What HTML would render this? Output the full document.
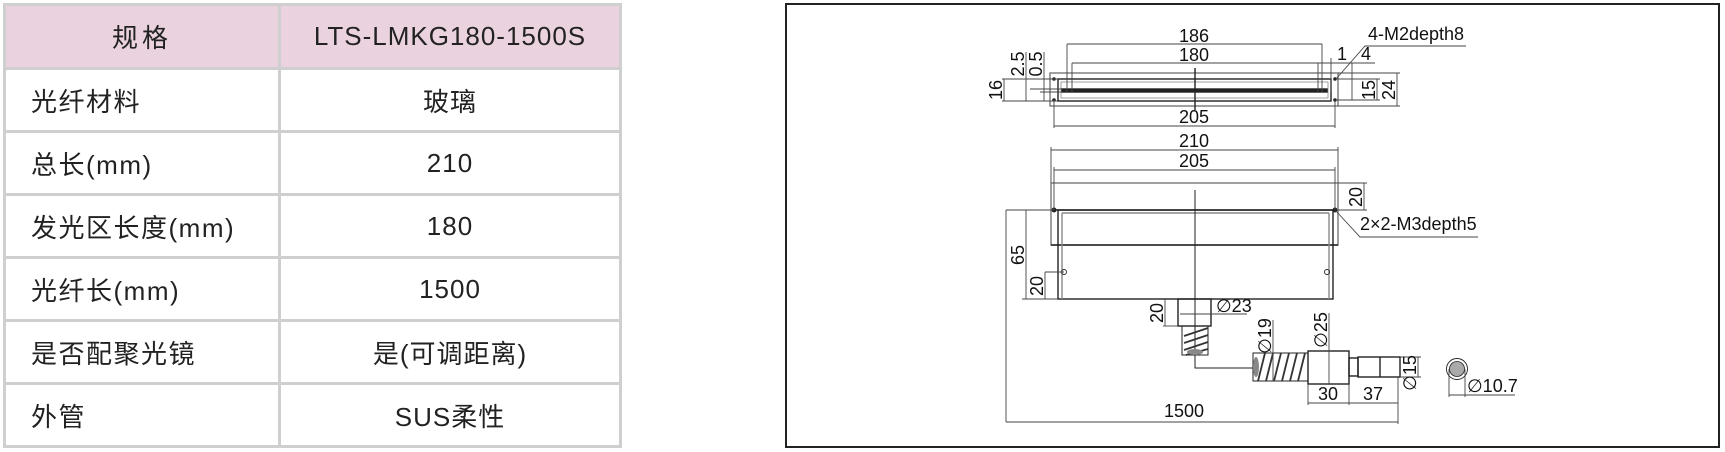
<!DOCTYPE html>
<html><head><meta charset="utf-8"><style>
html,body{margin:0;padding:0;background:#fff;}
body{width:1725px;height:452px;position:relative;overflow:hidden;}
table{position:absolute;left:3px;top:3px;border-collapse:collapse;font-family:"Liberation Sans","Noto Sans CJK SC",sans-serif;color:#222;}
td{border:3px solid #cfcfcf;height:60px;padding:0;font-size:26px;}
td.l{width:247px;padding-left:25px;letter-spacing:1.5px;}
td.r{width:338px;text-align:center;letter-spacing:1px;}
tr.h td{background:#ead3df;height:61px;}
tr.h td.l{text-align:center;padding-left:0;width:272px;letter-spacing:4px;}
svg{position:absolute;left:0;top:0;}
</style></head><body>
<table>
<tr class="h"><td class="l">规格</td><td class="r" style="letter-spacing:1px;font-size:26px">LTS-LMKG180-1500S</td></tr>
<tr><td class="l">光纤材料</td><td class="r">玻璃</td></tr>
<tr><td class="l">总长(mm)</td><td class="r">210</td></tr>
<tr><td class="l">发光区长度(mm)</td><td class="r">180</td></tr>
<tr><td class="l">光纤长(mm)</td><td class="r">1500</td></tr>
<tr><td class="l">是否配聚光镜</td><td class="r">是(可调距离)</td></tr>
<tr><td class="l">外管</td><td class="r">SUS柔性</td></tr>
</table>
<svg width="1725" height="452" viewBox="0 0 1725 452" font-family="Liberation Sans, sans-serif" font-size="18" fill="#111">
<rect x="786" y="4" width="933" height="443" fill="none" stroke="#222" stroke-width="2"/>
<g fill="none" stroke="#222" stroke-width="1.4">
<rect x="1050" y="73" width="288" height="33" stroke="#777"/>
<rect x="1058" y="79" width="273" height="22"/>
<rect x="1061" y="82" width="267" height="16" stroke="#888" stroke-width="0.8"/>
<rect x="1062" y="89" width="265" height="3" fill="#222"/>
<line x1="1195" y1="68" x2="1195" y2="110"/>
<rect x="1051" y="183" width="287" height="62" stroke="#777"/>
<line x1="1054" y1="210" x2="1335" y2="210"/>
<line x1="1051" y1="245" x2="1338" y2="245"/>
<rect x="1058" y="210" width="275" height="89"/>
<line x1="1062" y1="213" x2="1062" y2="299" stroke="#888"/>
<line x1="1329" y1="213" x2="1329" y2="299" stroke="#888"/>
<line x1="1062" y1="213" x2="1329" y2="213" stroke="#888"/>
<polyline points="1195,190 1195,368 1254,368" stroke-width="1"/>
<rect x="1178" y="299" width="33" height="27"/>
<rect x="1182" y="326" width="26" height="29" stroke-width="1"/>
<rect x="1253" y="353" width="55" height="28" stroke-width="1"/>
<rect x="1308" y="351" width="41" height="33"/>
<rect x="1349" y="358" width="9" height="18"/>
<rect x="1358" y="357" width="42" height="20"/>
<line x1="1380" y1="357" x2="1380" y2="377"/>
</g>
<g stroke="#333" stroke-width="1.8" fill="none">
<path d="M1184,336 l24,-8 M1184,343 l24,-8 M1184,350 l24,-8 M1186,355 l22,-6"/>
<path d="M1258,381 l7,-28 M1266,381 l7,-28 M1274,381 l7,-28 M1282,381 l7,-28 M1290,381 l7,-28 M1298,381 l7,-28"/>
</g>
<ellipse cx="1195" cy="352" rx="8" ry="3" fill="#888"/>
<ellipse cx="1256" cy="367" rx="3" ry="10" fill="#888"/>
<g fill="#222">
<circle cx="1054" cy="79" r="1.8"/><circle cx="1054" cy="100" r="1.8"/>
<circle cx="1335" cy="79" r="1.8"/><circle cx="1335" cy="100" r="1.8"/>
<circle cx="1054" cy="210" r="2.5"/><circle cx="1335" cy="210" r="2.5"/>
</g>
<g fill="none" stroke="#222" stroke-width="0.9">
<circle cx="1064" cy="272" r="2.5"/><circle cx="1327" cy="272" r="2.5"/>
<circle cx="1457" cy="369" r="10.5"/>
</g>
<circle cx="1457" cy="369" r="7.5" fill="#aaa" stroke="#222" stroke-width="0.8"/>
<g stroke="#444" stroke-width="0.9" fill="none">
<line x1="1067" y1="44" x2="1322" y2="44"/><line x1="1067" y1="44" x2="1067" y2="92"/><line x1="1322" y1="44" x2="1322" y2="92"/>
<line x1="1072" y1="63" x2="1318" y2="63"/><line x1="1072" y1="63" x2="1072" y2="92"/><line x1="1318" y1="63" x2="1318" y2="92"/>
<line x1="1313" y1="63" x2="1375" y2="63"/><line x1="1331" y1="58" x2="1331" y2="92"/><line x1="1352" y1="63" x2="1352" y2="100"/>
<line x1="1054" y1="126" x2="1335" y2="126"/><line x1="1054" y1="100" x2="1054" y2="128"/><line x1="1335" y1="100" x2="1335" y2="128"/>
<line x1="1051" y1="150" x2="1338" y2="150"/><line x1="1051" y1="147" x2="1051" y2="183"/><line x1="1338" y1="147" x2="1338" y2="183"/>
<line x1="1054" y1="170" x2="1335" y2="170"/><line x1="1054" y1="167" x2="1054" y2="210"/><line x1="1335" y1="167" x2="1335" y2="210"/>
<line x1="1004" y1="79" x2="1004" y2="101"/><line x1="1002" y1="79" x2="1058" y2="79"/><line x1="1002" y1="101" x2="1058" y2="101"/>
<line x1="1026" y1="52" x2="1026" y2="101"/><line x1="1044" y1="52" x2="1044" y2="101"/>
<line x1="1030" y1="89" x2="1062" y2="89"/><line x1="1040" y1="92" x2="1062" y2="92"/>
<line x1="1338" y1="73" x2="1400" y2="73"/><line x1="1338" y1="106" x2="1400" y2="106"/>
<line x1="1397" y1="73" x2="1397" y2="106"/>
<line x1="1337" y1="79" x2="1380" y2="79"/><line x1="1337" y1="100" x2="1380" y2="100"/>
<line x1="1377" y1="79" x2="1377" y2="100"/>
<polyline points="1336,79 1365,46 1466,46"/>
<line x1="1338" y1="183" x2="1367" y2="183"/><line x1="1338" y1="210" x2="1367" y2="210"/><line x1="1364" y1="183" x2="1364" y2="210"/>
<polyline points="1336,211 1360,237 1478,237"/>
<line x1="1006" y1="210" x2="1054" y2="210"/>
<line x1="1006" y1="210" x2="1006" y2="422"/>
<line x1="1026" y1="210" x2="1026" y2="299"/><line x1="1022" y1="299" x2="1058" y2="299"/>
<line x1="1045" y1="272" x2="1045" y2="299"/><line x1="1045" y1="272" x2="1064" y2="272"/>
<line x1="1165" y1="299" x2="1165" y2="326"/><line x1="1163" y1="326" x2="1178" y2="326"/>
<line x1="1180" y1="314" x2="1211" y2="314"/><line x1="1211" y1="314" x2="1247" y2="314"/>
<line x1="1273" y1="320" x2="1273" y2="381"/>
<line x1="1329" y1="313" x2="1329" y2="384"/>
<line x1="1400" y1="357" x2="1421" y2="357"/><line x1="1400" y1="377" x2="1421" y2="377"/><line x1="1418" y1="357" x2="1418" y2="377"/>
<line x1="1308" y1="384" x2="1308" y2="405"/><line x1="1349" y1="384" x2="1349" y2="405"/><line x1="1398" y1="377" x2="1398" y2="424"/>
<line x1="1308" y1="403" x2="1398" y2="403"/>
<line x1="1006" y1="422" x2="1398" y2="422"/>
<line x1="1449" y1="369" x2="1449" y2="397"/><line x1="1465" y1="369" x2="1465" y2="397"/><line x1="1449" y1="395" x2="1515" y2="395"/>
</g>
<g text-anchor="middle">
<text x="1194" y="42">186</text>
<text x="1194" y="61">180</text>
<text x="1194" y="123">205</text>
<text x="1194" y="147">210</text>
<text x="1194" y="167">205</text>
<text x="1328" y="400">30</text>
<text x="1373" y="400">37</text>
<text x="1184" y="417">1500</text>
</g>
<text x="1337" y="60">1</text>
<text x="1361" y="60">4</text>
<text x="1368" y="40">4-M2depth8</text>
<text x="1360" y="230">2×2-M3depth5</text>
<text x="1216" y="312">∅23</text>
<text x="1467" y="392">∅10.7</text>
<g>
<text transform="translate(1002,90) rotate(-90)" text-anchor="middle">16</text>
<text transform="translate(1024,64) rotate(-90)" text-anchor="middle">2.5</text>
<text transform="translate(1042,64) rotate(-90)" text-anchor="middle">0.5</text>
<text transform="translate(1375,90) rotate(-90)" text-anchor="middle">15</text>
<text transform="translate(1395,90) rotate(-90)" text-anchor="middle">24</text>
<text transform="translate(1362,197) rotate(-90)" text-anchor="middle">20</text>
<text transform="translate(1024,255) rotate(-90)" text-anchor="middle">65</text>
<text transform="translate(1043,286) rotate(-90)" text-anchor="middle">20</text>
<text transform="translate(1163,313) rotate(-90)" text-anchor="middle">20</text>
<text transform="translate(1271,336) rotate(-90)" text-anchor="middle">∅19</text>
<text transform="translate(1327,330) rotate(-90)" text-anchor="middle">∅25</text>
<text transform="translate(1416,373) rotate(-90)" text-anchor="middle">∅15</text>
</g>
</svg>
</body></html>
